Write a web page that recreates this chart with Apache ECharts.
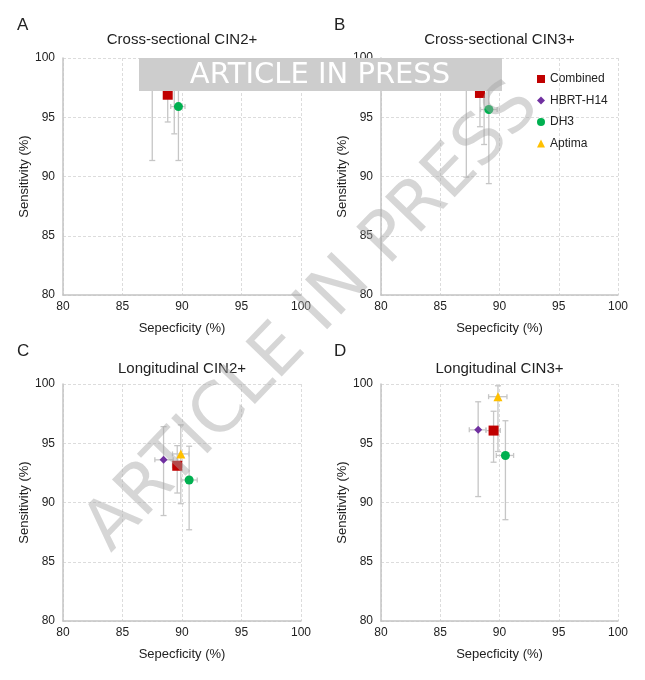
<!DOCTYPE html>
<html>
<head>
<meta charset="utf-8">
<script src="https://cdn.jsdelivr.net/npm/echarts@6/dist/echarts.min.js"></script>
<style>html,body{margin:0;padding:0;background:#fff;}#c{width:645px;height:680px;}</style>
</head>
<body>
<div id="c"></div>
<script>
// Methods (order: Combined, HBRT-H14, DH3, Aptima)
const methods = ['Combined', 'HBRT-H14', 'DH3', 'Aptima'];
const panelTitles = ['Cross-sectional CIN2+', 'Cross-sectional CIN3+', 'Longitudinal CIN2+', 'Longitudinal CIN3+'];
const panelLetters = ['A', 'B', 'C', 'D'];
const axisTicks = [80, 85, 90, 95, 100];

// Panel A: Cross-sectional CIN2+
const aSpec   = [88.8, 87.5, 89.7, 89.35];
const aSpecLo = [88.5, 87.0, 89.05, 88.8];
const aSpecHi = [89.1, 88.0, 90.25, 89.9];
const aSens   = [96.9, 98.3, 95.9, 99.0];
const aSensLo = [94.6, 91.35, 91.35, 93.6];
const aSensHi = [98.6, 99.7, 98.5, 99.8];

// Panel B: Cross-sectional CIN3+
const bSpec   = [88.35, 87.2, 89.1, 88.7];
const bSpecLo = [88.0, 86.7, 88.4, 88.2];
const bSpecHi = [88.7, 87.7, 89.8, 89.2];
const bSens   = [97.05, 98.5, 95.65, 99.1];
const bSensLo = [94.2, 89.95, 89.4, 92.7];
const bSensHi = [99.0, 99.8, 98.5, 99.9];

// Panel C: Longitudinal CIN2+
const cSpec   = [89.6, 88.45, 90.6, 89.9];
const cSpecLo = [89.2, 87.72, 89.96, 89.2];
const cSpecHi = [90.0, 89.26, 91.28, 90.58];
const cSens   = [93.1, 93.6, 91.9, 94.1];
const cSensLo = [90.8, 88.9, 87.7, 89.9];
const cSensHi = [94.8, 96.4, 94.75, 96.55];

// Panel D: Longitudinal CIN3+
const dSpec   = [89.5, 88.2, 90.5, 89.87];
const dSpecLo = [88.86, 87.45, 89.73, 89.08];
const dSpecHi = [90.07, 88.86, 91.19, 90.63];
const dSens   = [96.07, 96.13, 93.97, 98.93];
const dSensLo = [93.4, 90.5, 88.55, 94.3];
const dSensHi = [97.7, 98.5, 96.9, 99.85];

const panels = [
  [aSpec, aSpecLo, aSpecHi, aSens, aSensLo, aSensHi],
  [bSpec, bSpecLo, bSpecHi, bSens, bSensLo, bSensHi],
  [cSpec, cSpecLo, cSpecHi, cSens, cSensLo, cSensHi],
  [dSpec, dSpecLo, dSpecHi, dSens, dSensLo, dSensHi]
];

const colors = ['#C00000', '#7030A0', '#00B050', '#FFC000'];
const symbols = ['rect', 'diamond', 'circle', 'triangle'];
const symSizes = [10, 8, 9, 9];

const grids = [
  {left: 63, top: 58, width: 238, height: 237},
  {left: 381, top: 58, width: 237, height: 237},
  {left: 63, top: 384, width: 238, height: 237},
  {left: 381, top: 384, width: 237, height: 237}
];

const FONT = '"Liberation Sans", Arial, Helvetica, sans-serif';

const xAxes = [], yAxes = [], series = [], titles = [];
grids.forEach((g, i) => {
  const common = {
    type: 'value', min: 80, max: 100, interval: 5, gridIndex: i,
    axisLine: {show: true, lineStyle: {color: '#c4c4c4', width: 1.5}},
    axisTick: {show: false},
    splitLine: {show: true, lineStyle: {color: '#dcdcdc', type: [3, 2], width: 1}},
    nameLocation: 'middle',
    nameTextStyle: {fontSize: 13, color: '#222', fontFamily: FONT},
    axisLabel: {fontSize: 12, color: '#222', fontFamily: FONT}
  };
  xAxes.push(Object.assign({}, common, {name: 'Sepecficity (%)', nameGap: 27, axisLabel: Object.assign({}, common.axisLabel, {margin: 6})}));
  yAxes.push(Object.assign({}, common, {name: 'Sensitivity (%)', nameGap: 28, axisLabel: Object.assign({}, common.axisLabel, {margin: 8})}));

  const row = i < 2 ? 0 : 1;
  titles.push({
    text: panelTitles[i], left: g.left + g.width / 2, top: g.top - 26 + row * 3, textAlign: 'center', padding: 0,
    textStyle: {fontSize: 15, fontWeight: 'normal', color: '#222', fontFamily: FONT}
  });
  titles.push({
    text: panelLetters[i], left: i % 2 === 0 ? 17 : 334, top: g.top - 41, padding: 0,
    textStyle: {fontSize: 17, fontWeight: 'normal', color: '#222', fontFamily: FONT}
  });

  const [sp, spLo, spHi, se, seLo, seHi] = panels[i];
  const errData = methods.map((m, k) => [sp[k], se[k], spLo[k], spHi[k], seLo[k], seHi[k]]);
  series.push({
    type: 'custom', xAxisIndex: i, yAxisIndex: i, silent: true, z: 1,
    data: errData,
    renderItem: function (params, api) {
      const x = api.value(0), y = api.value(1);
      const lo = api.coord([x, api.value(4)]);
      const hi = api.coord([x, api.value(5)]);
      const l = api.coord([api.value(2), y]);
      const r = api.coord([api.value(3), y]);
      const st = {stroke: '#c6c6c6', lineWidth: 1.3, fill: null};
      const cw = 3, ch = 2.5;
      return {
        type: 'group',
        children: [
          {type: 'line', shape: {x1: lo[0], y1: lo[1], x2: hi[0], y2: hi[1]}, style: st},
          {type: 'line', shape: {x1: lo[0] - cw, y1: lo[1], x2: lo[0] + cw, y2: lo[1]}, style: st},
          {type: 'line', shape: {x1: hi[0] - cw, y1: hi[1], x2: hi[0] + cw, y2: hi[1]}, style: st},
          {type: 'line', shape: {x1: l[0], y1: l[1], x2: r[0], y2: r[1]}, style: st},
          {type: 'line', shape: {x1: l[0], y1: l[1] - ch, x2: l[0], y2: l[1] + ch}, style: st},
          {type: 'line', shape: {x1: r[0], y1: r[1] - ch, x2: r[0], y2: r[1] + ch}, style: st}
        ]
      };
    }
  });
  methods.forEach((m, k) => {
    series.push({
      type: 'scatter', name: m, xAxisIndex: i, yAxisIndex: i, z: 3,
      symbol: symbols[k], symbolSize: symSizes[k],
      itemStyle: {color: colors[k], opacity: 1},
      data: [[sp[k], se[k]]]
    });
  });
});

const chart = echarts.init(document.getElementById('c'), null, {renderer: 'canvas'});
chart.setOption({
  backgroundColor: '#fff',
  animation: false,
  title: titles,
  grid: grids,
  xAxis: xAxes,
  yAxis: yAxes,
  legend: {
    orient: 'vertical', left: 532, top: 68, itemWidth: 8, itemHeight: 8, itemGap: 9.5,
    textStyle: {fontSize: 12, color: '#222', fontFamily: FONT},
    data: methods.map((m, k) => ({name: m, icon: symbols[k]})),
    selectedMode: false
  },
  series: series,
  graphic: [
    {type: 'rect', z: 100, shape: {x: 139, y: 58, width: 363, height: 33}, style: {fill: '#cdcdcd'}},
    {type: 'text', z: 101, x: 320, y: 75, style: {text: 'ARTICLE IN PRESS', fill: '#ffffff', font: '29px "DejaVu Sans", Verdana, sans-serif', textAlign: 'center', textVerticalAlign: 'middle'}},
    {type: 'text', z: 102, x: 313, y: 318, rotation: 46 * Math.PI / 180,
     style: {text: 'ARTICLE IN PRESS', fill: 'rgba(165,165,165,0.45)', font: '69px "DejaVu Sans", Verdana, sans-serif', textAlign: 'center', textVerticalAlign: 'middle'}}
  ]
});
</script>
</body>
</html>
